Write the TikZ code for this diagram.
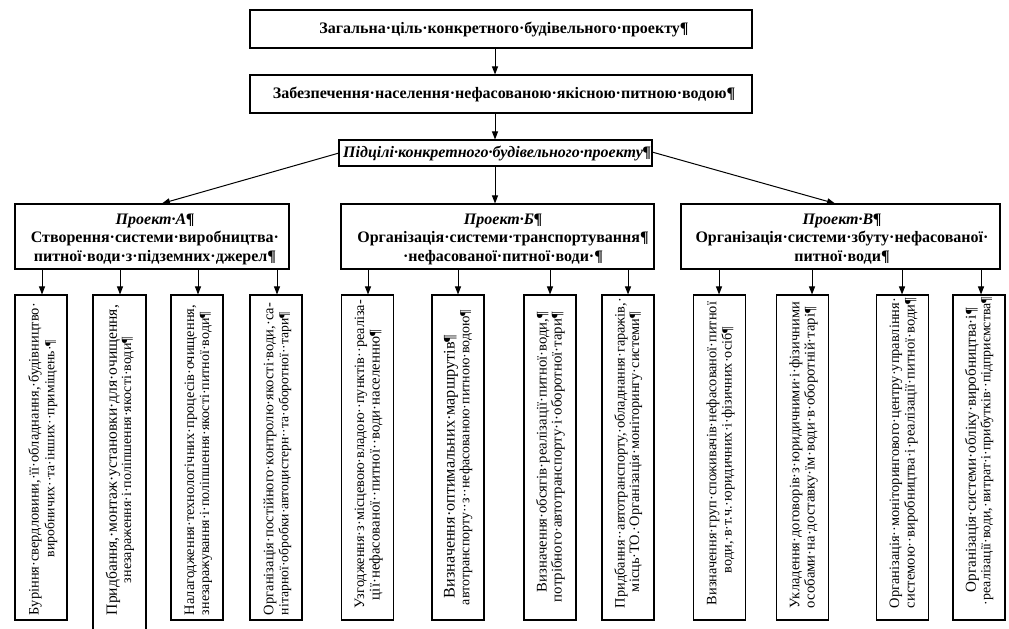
\documentclass[tikz,border=0pt]{standalone}
\usepackage{fontspec}
\setmainfont{Liberation Serif}
\usetikzlibrary{arrows.meta}
\newcommand{\fl}[2]{\resizebox{\dimexpr0.75pt*#1\relax}{!}{#2}}
\newcommand{\upx}{*0.75pt}
\begin{document}
\begin{tikzpicture}[x=0.75pt,y=-0.75pt]
\tikzset{
  box/.style={draw, line width=0.8pt, inner sep=0pt, align=center},
  hdr/.style={font=\fontsize{12}{13.9}\selectfont\bfseries},
  lt/.style={rotate=90, inner sep=0pt, font=\fontsize{10.5}{12}\selectfont},
  arr/.style={-{Triangle[length=6pt,width=4.5pt]}, line width=0.75pt}
}
\useasboundingbox (0,0) rectangle (1009,628);
\clip (0,0) rectangle (1009,628);
\fill[white] (0,0) rectangle (1009,628);

% header boxes
\node[box, minimum width=502\upx, minimum height=38\upx] (top) at (501,29) {};
\node[hdr] (toptxt) at (504,29) {Загальна·ціль·конкретного·будівельного·проекту¶};
\node[box, minimum width=502\upx, minimum height=38\upx] (goal) at (501,94) {};
\node[hdr] (goaltxt) at (504,94) {Забезпечення·населення·нефасованою·якісною·питною·водою¶};
\node[box, minimum width=313\upx, minimum height=26\upx] (sub) at (495.5,153) {};
\node[hdr, font=\fontsize{12}{13.9}\selectfont\bfseries\itshape] (subtxt) at (497,153) {Підцілі·конкретного·будівельного·проекту¶};

\node[box, minimum width=274\upx, minimum height=65\upx] (projA) at (152,236.5) {};
\node[hdr, align=center] (projAtxt) at (155,239) {\textit{Проект·А¶}\\Створення·системи·виробництва·\\питної·води·з·підземних·джерел¶};
\node[box, minimum width=313\upx, minimum height=65\upx] (projB) at (497.5,236.5) {};
\node[hdr, align=center] (projBtxt) at (503,239) {\textit{Проект·Б¶}\\Організація·системи·транспортування¶\\·нефасованої·питної·води·¶};
\node[box, minimum width=319\upx, minimum height=65\upx] (projV) at (840.5,236.5) {};
\node[hdr, align=center] (projVtxt) at (842,239) {\textit{Проект·В¶}\\Організація·системи·збуту·нефасованої·\\питної·води¶};

% top connectors
\coordinate (xm) at (495,0);
\draw[arr] (top.south -| xm) -- (goal.north -| xm);
\draw[arr] (goal.south -| xm) -- (sub.north -| xm);
\draw[arr] (sub.south -| xm) -- (projB.north -| xm);
\coordinate (xa) at (162,0);
\coordinate (xv) at (835,0);
\coordinate (sl) at (339,153);
\coordinate (sr) at (652,152);
\draw[arr] (sl) -- (projA.north -| xa);
\draw[arr] (sr) -- (projV.north -| xv);

% leaf boxes
\foreach \n/\cx in {a1/41,a3/197,a4/276,b1/367.5,b2/458,b3/550,b4/628,v1/719.5,v2/802.5,v3/902.5,v4/979}{
  \node[box, minimum width=52\upx, minimum height=325\upx] (\n) at (\cx,457.5) {};
}
\node[box, minimum width=53\upx, minimum height=345\upx] (a2) at (119.5,467.5) {};

% leaf connectors
\foreach \n/\p/\ax in {a1/projA/42,a2/projA/120,a3/projA/198,a4/projA/277,b1/projB/368,b2/projB/458,b3/projB/550,b4/projB/628,v1/projV/719,v2/projV/812,v3/projV/902,v4/projV/981}{
  \coordinate (x\n) at (\ax,0);
  \draw[arr] (\p.south -| x\n) -- (\n.north -| x\n);
}

% leaf texts
\node[lt] (a1a) at (35,459) {\fl{312}{Буріння·свердловини,·її·обладнання,·будівництво·}};
\node[lt] (a1b) at (51,448.5) {\fl{217}{виробничих··та·інших··приміщень·¶}};
\node[lt] (a2a) at (113,460) {\fl{310}{Придбання,·монтаж·установки·для·очищення,}};
\node[lt] (a2b) at (128,460) {\fl{246}{знезараження·і·поліпшення·якості·води¶}};
\node[lt] (a3a) at (191,460) {\fl{310}{Налагодження·технологічних·процесів·очищення,}};
\node[lt] (a3b) at (206,463.5) {\fl{303}{знезаражування·і·поліпшення·якості·питної·води¶}};
\node[lt] (a4a) at (270,459) {\fl{312}{Організація·постійного·контролю·якості·води,·са-}};
\node[lt] (a4b) at (285,463.5) {\fl{303}{нітарної·обробки·автоцистерн··та·оборотної··тари¶}};

\node[lt] (b1a) at (361,454) {\fl{308}{Узгодження·з·місцевою·владою··пунктів··реаліза-}};
\node[lt] (b1b) at (376,465) {\fl{270}{ції·нефасованої··питної··води·населенню¶}};
\node[lt] (b2a) at (451,466.5) {\fl{263}{Визначення·оптимальних·маршрутів¶}};
\node[lt] (b2b) at (466,457.5) {\fl{295}{автотранспорту··з··нефасованою·питною·водою¶}};
\node[lt] (b3a) at (543,452) {\fl{280}{Визначення·обсягів·реалізації·питної·води,¶}};
\node[lt] (b3b) at (558,457) {\fl{290}{потрібного·автотранспорту·і·оборотної·тари¶}};
\node[lt] (b4a) at (621,453) {\fl{310}{Придбання··автотранспорту,·обладнання·гаражів,·}};
\node[lt] (b4b) at (636,452) {\fl{280}{місць·ТО.·Організація·моніторингу·системи¶}};

\node[lt] (v1a) at (713,453.5) {\fl{303}{Визначення·груп·споживачів·нефасованої·питної}};
\node[lt] (v1b) at (728,450) {\fl{246}{води,·в·т.ч.·юридичних·і·фізичних·осіб¶}};
\node[lt] (v2a) at (796,455) {\fl{306}{Укладення·договорів·з·юридичними·і·фізичними}};
\node[lt] (v2b) at (811,457.5) {\fl{301}{особами·на·доставку·їм·води·в·оборотній·тарі¶}};
\node[lt] (v3a) at (896,453) {\fl{310}{Організація··моніторингового·центру·управління·}};
\node[lt] (v3b) at (911,453) {\fl{310}{системою··виробництва·і·реалізації·питної·води¶}};
\node[lt] (v4a) at (972,450) {\fl{284}{Організація·системи·обліку·виробництва·і¶}};
\node[lt] (v4b) at (987,451) {\fl{308}{·реалізації·води,·витрат·і·прибутків··підприємства¶}};
\end{tikzpicture}
\end{document}
